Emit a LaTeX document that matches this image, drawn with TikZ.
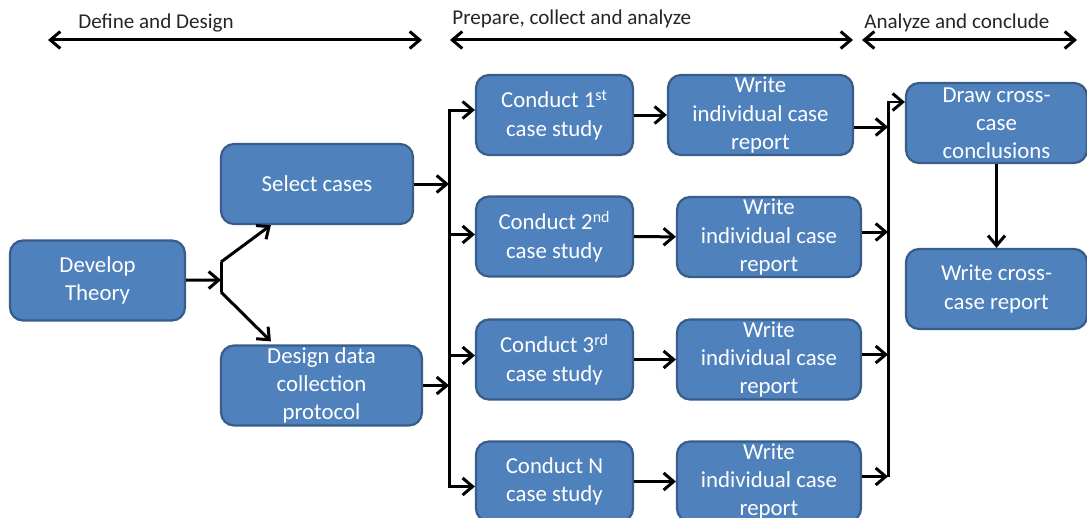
\documentclass[tikz,border=0pt]{standalone}
\usepackage{fontspec}
\setmainfont{Carlito}
\usepackage{tikz}
\usetikzlibrary{calc, arrows.meta}
\definecolor{boxfill}{RGB}{79,129,189}
\definecolor{boxedge}{RGB}{56,93,138}
\tikzset{>={Straight Barb[length=2mm,width=3.4mm]}}
\tikzset{
stagebox/.style={draw=boxedge, line width=0.45mm, fill=boxfill, rounded corners=2.6mm,
  text=white, align=center, inner sep=0pt, minimum height=1.6cm,
  font=\fontsize{13}{16}\selectfont},
phase/.style={anchor=base west, inner sep=0pt, text=black!85,
  font=\fontsize{12}{14}\selectfont},
flow/.style={line width=0.6mm}
}

\begin{document}
\begin{tikzpicture}[x=0.02cm, y=-0.02cm]
\useasboundingbox (0,0) rectangle (1087,517);
\clip (0,0) rectangle (1087,517);

% phases along the top
\coordinate (p1a) at (48,40);   \coordinate (p1b) at (422,40);
\coordinate (p2a) at (450,40);  \coordinate (p2b) at (853,40);
\coordinate (p3a) at (862,40);  \coordinate (p3b) at (1077,40);
\draw[flow, <->] (p1a) -- (p1b);
\draw[flow, <->] (p2a) -- (p2b);
\draw[flow, <->] (p3a) -- (p3b);
\node[phase] (ph1) at (78,29) {Define and Design};
\node[phase] (ph2) at (452,25) {Prepare, collect and analyze};
\node[phase] (ph3) at (864,29) {Analyze and conclude};

% boxes
\node[stagebox, minimum width=3.5cm]  (dev) at (97.5,280.5) {Develop\\Theory};
\node[stagebox, minimum width=3.84cm] (sel) at (317,184)   {Select cases};
\node[stagebox, minimum width=4.02cm] (des) at (321.5,385.5) {Design data\\collection\\protocol};

\node[stagebox, minimum width=3.14cm] (c1) at (554.5,115)   {Conduct 1\textsuperscript{st}\\case study};
\node[stagebox, minimum width=3.14cm] (c2) at (554.5,236.5) {Conduct 2\textsuperscript{nd}\\case study};
\node[stagebox, minimum width=3.14cm] (c3) at (554.5,359.5) {Conduct 3\textsuperscript{rd}\\case study};
\node[stagebox, minimum width=3.14cm] (c4) at (554.5,481.5) {Conduct N\\case study};

\node[stagebox, minimum width=3.7cm]  (w1) at (760.5,115)   {Write\\individual case\\report};
\node[stagebox, minimum width=3.68cm] (w2) at (769,237)     {Write\\individual case\\report};
\node[stagebox, minimum width=3.68cm] (w3) at (769,359.5)   {Write\\individual case\\report};
\node[stagebox, minimum width=3.68cm] (w4) at (769,481.5)   {Write\\individual case\\report};

\node[stagebox, minimum width=3.62cm] (drw) at (996.5,123) {Draw cross-\\case\\conclusions};
\node[stagebox, minimum width=3.62cm] (rep) at (996.5,289) {Write cross-\\case report};

% fork after the theory
\coordinate (fork) at (221,280);
\coordinate (forkT) at (221,262);
\coordinate (forkB) at (221,292);
\draw[flow, ->] (dev) -- (fork);
\draw[flow] (forkT) -- (forkB);
\draw[flow, ->] (forkT) -- ($(sel.south west)+(51,0)$);
\draw[flow, ->] (forkB) -- ($(des.north west)+(51,-3)$);

% left bus
\coordinate (busL) at (449,0);
\draw[flow, ->] (sel) -- (busL |- sel);
\draw[flow, ->] (des) -- (busL |- des);
\draw[flow] ($(busL |- c1)+(0,-6)$) -- ($(busL |- c4)+(0,6)$);
\draw[flow, ->] ($(busL |- c1)+(0,-5)$) -- ($(c1.west)+(0,-5)$);
\draw[flow, ->] ($(busL |- c2)+(0,-2)$) -- ($(c2.west)+(0,-2)$);
\draw[flow, ->] ($(busL |- c3)+(0,-4)$) -- ($(c3.west)+(0,-4)$);
\draw[flow, ->] ($(busL |- c4)+(0,5)$) -- ($(c4.west)+(0,5)$);

\foreach \i in {1,...,4}
  \draw[flow, ->] (c\i) -- (w\i);

% right bus
\coordinate (busR) at (888,0);
\draw[flow, ->] ($(w1.east)+(0,12)$) -- ($(busR |- w1)+(0,12)$);
\draw[flow, ->] ($(w2.east)+(0,-5)$) -- ($(busR |- w2)+(0,-5)$);
\draw[flow, ->] ($(w3.east)+(0,-5)$) -- ($(busR |- w3)+(0,-5)$);
\draw[flow, ->] ($(w4.east)+(0,-5)$) -- ($(busR |- w4)+(0,-5)$);
\draw[flow, ->] ($(busR |- w4)+(0,-5)$) |- ($(drw.west)+(0,-21)$);
\draw[flow, ->] (drw) -- (rep);
\end{tikzpicture}
\end{document}
